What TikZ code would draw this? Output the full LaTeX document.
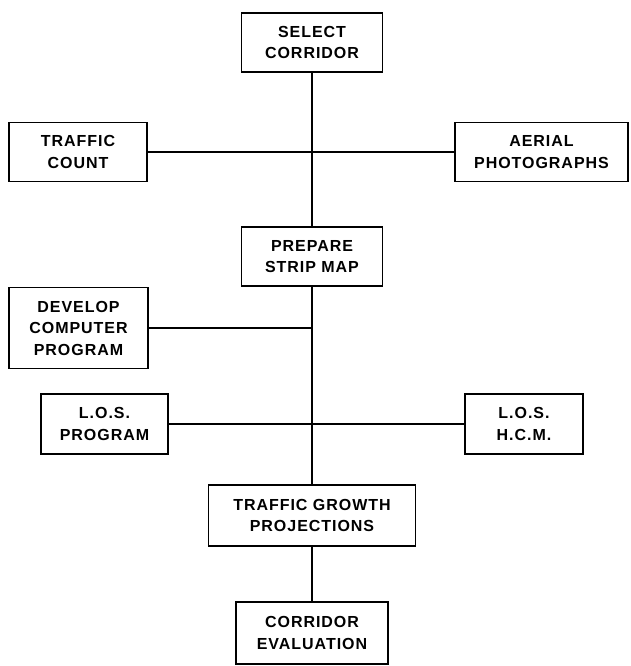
\documentclass[tikz,border=0pt]{standalone}
\usepackage{fontspec}
\setmainfont{Liberation Sans}[LetterSpace=6]
\begin{document}
\begin{tikzpicture}[x=1pt,y=-1pt,
  box/.style={draw,line width=1.3pt,inner sep=0pt,align=center,
    font=\bfseries\fontsize{16}{21.5}\selectfont},
  link/.style={line width=1.3pt}]
\useasboundingbox (0,0) rectangle (630,666);
% boxes
\node[box,minimum width=141,minimum height=59] (select) at (312,42.5) {SELECT\\CORRIDOR};
\node[box,minimum width=138,minimum height=59] (count) at (78,152) {TRAFFIC\\COUNT};
\node[box,minimum width=173,minimum height=59] (aerial) at (541.5,152) {AERIAL\\PHOTOGRAPHS};
\node[box,minimum width=141,minimum height=59] (prepare) at (312,256.5) {PREPARE\\STRIP MAP};
\node[box,minimum width=139,minimum height=81] (develop) at (78.5,328) {DEVELOP\\COMPUTER\\PROGRAM};
\node[box,minimum width=127,minimum height=60] (losprog) at (104.5,424) {L.O.S.\\PROGRAM};
\node[box,minimum width=118,minimum height=60] (loshcm) at (524,424) {L.O.S.\\H.C.M.};
\node[box,minimum width=207,minimum height=61] (growth) at (312,515.5) {TRAFFIC GROWTH\\PROJECTIONS};
\node[box,minimum width=152,minimum height=62] (evaluation) at (312,633) {CORRIDOR\\EVALUATION};
% connectors
\draw[link] (select) -- (prepare);
\draw[link] (count) -- (aerial);
\draw[link] (prepare) -- (growth);
\draw[link] (develop) -- (develop -| prepare);
\draw[link] (losprog) -- (loshcm);
\draw[link] (growth) -- (evaluation);
\end{tikzpicture}
\end{document}
